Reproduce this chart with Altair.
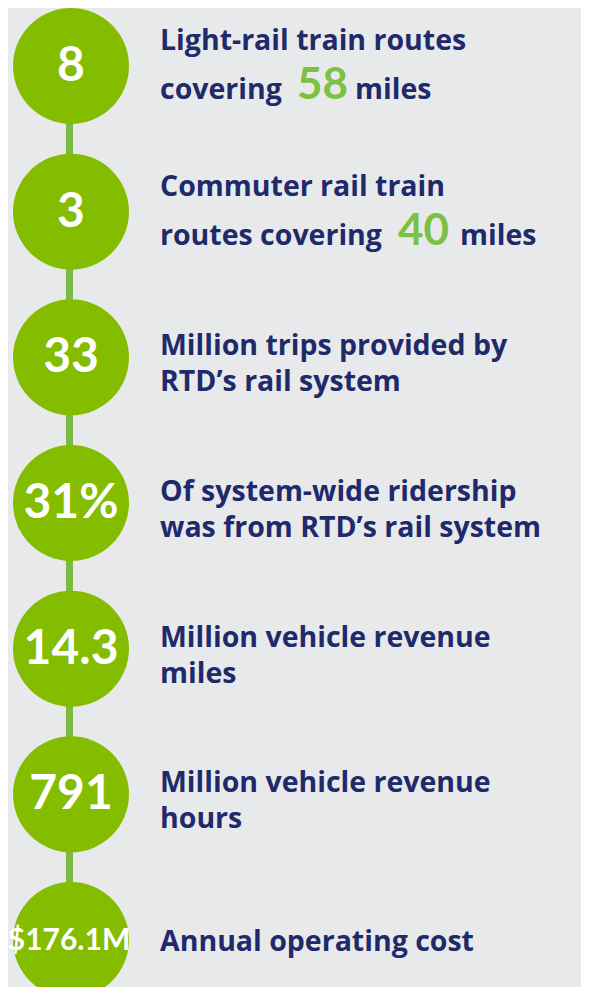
import altair as alt
import pandas as pd

# ---- data ----
idx = [0, 1, 2, 3, 4, 5, 6]
values = ["8", "3", "33", "31%", "14.3", "791", "$176.1M"]

rich_idx = [0, 1]
rich_line1 = ["Light-rail train routes", "Commuter rail train"]
rich_prefix = ["covering", "routes covering"]
rich_highlight = ["58", "40"]
rich_suffix = ["miles", "miles"]

plain_idx = [2, 3, 4, 5]
plain_line1 = ["Million trips provided by", "Of system-wide ridership",
               "Million vehicle revenue", "Million vehicle revenue"]
plain_line2 = ["RTD\u2019s rail system", "was from RTD\u2019s rail system",
               "miles", "hours"]

single_idx = [6]
single_text = ["Annual operating cost"]

# ---- layout / style ----
BG = "#e8e9eb"
CIRCLE = "#84bc00"
LINE = "#7cbb42"
NAVY = "#1f2a6b"
HILITE = "#7cc142"
FONT = "Open Sans"
NUMFONT = "Lato"
W, H = 573, 979
TEXT_X = 152
HIGHLIGHT_X = [289, 390]
SUFFIX_X = [347, 452]

circles = pd.DataFrame({"idx": idx, "value": values})
rich = pd.DataFrame({"idx": rich_idx, "line1": rich_line1, "prefix": rich_prefix,
                     "highlight": rich_highlight, "suffix": rich_suffix})
plain = pd.DataFrame({"idx": plain_idx,
                      "text": [a + "\n" + b for a, b in zip(plain_line1, plain_line2)]})
single = pd.DataFrame({"idx": single_idx, "text": single_text})

yscale = alt.Scale(domain=[0, 6], range=[58, 932])
Y = alt.Y("idx:Q", scale=yscale, axis=None)

line = alt.Chart(circles).mark_line(color=LINE, strokeWidth=7).encode(
    x=alt.value(61.5), y=Y)

dots = alt.Chart(circles).mark_point(
    shape="circle", filled=True, opacity=1, size=116 * 116, color=CIRCLE, strokeWidth=0
).encode(x=alt.value(71 - 8), y=Y)

nums_big = alt.Chart(circles).transform_filter("datum.idx < 6").mark_text(
    font=NUMFONT, fontWeight="bold", fontSize=48, color="white",
    align="center", baseline="middle", dy=1
).encode(x=alt.value(63), y=Y, text="value:N")

nums_small = alt.Chart(circles).transform_filter("datum.idx == 6").mark_text(
    font=NUMFONT, fontWeight="bold", fontSize=30, color="white",
    align="center", baseline="middle", dy=1
).encode(x=alt.value(61), y=Y, text="value:N")

desc_style = dict(font=FONT, fontWeight="bold", fontSize=28.5, color=NAVY,
                  align="left", baseline="alphabetic")

plain_txt = alt.Chart(plain).mark_text(
    lineBreak="\n", lineHeight=36, dy=-2, **desc_style
).encode(x=alt.value(TEXT_X), y=Y, text="text:N")

single_txt = alt.Chart(single).mark_text(dy=11, **desc_style).encode(
    x=alt.value(TEXT_X), y=Y, text="text:N")

rich_l1 = alt.Chart(rich).mark_text(dy=-16, **desc_style).encode(
    x=alt.value(TEXT_X), y=Y, text="line1:N")
rich_pre = alt.Chart(rich).mark_text(dy=33, **desc_style).encode(
    x=alt.value(TEXT_X), y=Y, text="prefix:N")

layers = [line, dots, nums_big, nums_small, plain_txt, single_txt, rich_l1, rich_pre]
for k, i in enumerate(rich_idx):
    hl_style = dict(desc_style)
    hl_style.update(font=NUMFONT, fontWeight="bold", fontSize=44, color=HILITE)
    layers.append(alt.Chart(rich).transform_filter(f"datum.idx == {i}").mark_text(
        dy=33, **hl_style).encode(x=alt.value(HIGHLIGHT_X[k]), y=Y, text="highlight:N"))
    layers.append(alt.Chart(rich).transform_filter(f"datum.idx == {i}").mark_text(
        dy=33, **desc_style).encode(x=alt.value(SUFFIX_X[k]), y=Y, text="suffix:N"))

chart = alt.layer(*layers).properties(
    width=W, height=H, background=BG, padding=0,
    autosize=alt.AutoSizeParams(type="none")
).configure_view(stroke=None, fill=BG)

chart.save("out.html", embed_options={"renderer": "svg", "actions": False})
